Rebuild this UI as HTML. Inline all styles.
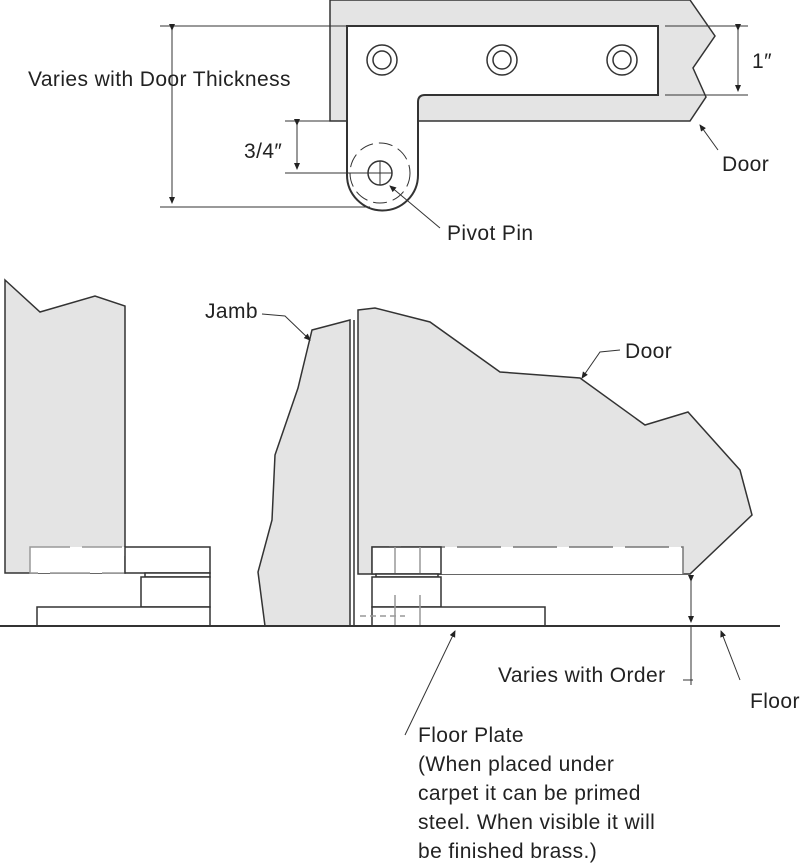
<!DOCTYPE html>
<html><head><meta charset="utf-8"><style>
html,body{margin:0;padding:0;background:#fff}
svg{display:block}
text{font-family:"Liberation Sans",sans-serif;font-size:21px;letter-spacing:0.4px;fill:#222}
</style></head><body>
<svg width="800" height="865" viewBox="0 0 800 865">
<defs><marker id="a" markerWidth="8" markerHeight="8" refX="6" refY="4" orient="auto"><path d="M0,1 L7,4 L0,7 z" fill="#222"/></marker></defs>
<g stroke="#333" stroke-width="1.5" fill="none">
<path d="M330,0 L690,0 L715,36 L693,68 L706,97 L690,121 L330,121 Z" fill="#e4e4e4"/>
<path d="M347,26 L658,26 L658,95 L425,95 Q418,95 418,102 L418,175 A35,35 0 0 1 347,175 Z" fill="#fff" stroke-width="2"/>
<circle cx="380" cy="173" r="30" stroke-dasharray="14,6" stroke-width="1"/>
<circle cx="380" cy="173" r="12"/>
<line x1="368" y1="173" x2="392" y2="173" stroke-width="1"/>
<line x1="380" y1="161" x2="380" y2="185" stroke-width="1"/>
<circle cx="382" cy="60" r="15"/><circle cx="382" cy="60" r="9"/>
<circle cx="502" cy="60" r="15"/><circle cx="502" cy="60" r="9"/>
<circle cx="622" cy="60" r="15"/><circle cx="622" cy="60" r="9"/>
<g stroke-width="1">
<line x1="665" y1="26" x2="748" y2="26"/><line x1="665" y1="95" x2="748" y2="95"/>
<line x1="738" y1="30" x2="738" y2="91" marker-start="url(#a)" marker-end="url(#a)"/>
<line x1="160" y1="26" x2="347" y2="26"/><line x1="160" y1="207" x2="370" y2="207"/>
<line x1="172" y1="30" x2="172" y2="203" marker-start="url(#a)" marker-end="url(#a)"/>
<line x1="285" y1="121" x2="330" y2="121"/><line x1="285" y1="173" x2="370" y2="173"/>
<line x1="297" y1="125" x2="297" y2="169" marker-start="url(#a)" marker-end="url(#a)"/>
<line x1="718" y1="150" x2="700" y2="125" marker-end="url(#a)"/>
<line x1="440" y1="228" x2="390" y2="186" marker-end="url(#a)"/>
</g>
<path d="M5,280 L40,312 L95,296 L125,306 L125,573 L5,573 Z" fill="#e4e4e4"/>
<rect x="30" y="547" width="95" height="26" fill="#fff" stroke="#999" stroke-dasharray="40,12"/>
<rect x="125" y="547" width="85" height="26" fill="#fff"/>
<rect x="145" y="573" width="65" height="4" fill="#fff"/>
<rect x="141" y="577" width="69" height="30" fill="#fff"/>
<rect x="37" y="607" width="173" height="19" fill="#fff"/>
<path d="M312,330 L350,320 L350,626 L265,626 L258,572 L272,520 L275,455 L298,388 Z" fill="#e4e4e4"/>
<path d="M358,310 L375,308 L430,322 L500,372 L580,378 L645,425 L688,412 L740,470 L752,515 L690,574 L358,574 Z" fill="#e4e4e4"/>
<line x1="354" y1="320" x2="354" y2="626"/>
<path d="M372,574 L372,547 L683,547 L683,574" fill="#fff" stroke="#777" stroke-dasharray="44,12"/>
<rect x="372" y="547" width="69" height="27" fill="#fff"/>
<line x1="395" y1="547" x2="395" y2="574" stroke="#999"/><line x1="420" y1="547" x2="420" y2="574" stroke="#999"/>
<rect x="376" y="574" width="62" height="3" fill="#fff"/>
<rect x="372" y="577" width="69" height="30" fill="#fff"/>
<rect x="372" y="607" width="173" height="19" fill="#fff"/>
<line x1="395" y1="595" x2="395" y2="626" stroke="#999"/><line x1="420" y1="595" x2="420" y2="626" stroke="#999"/>
<line x1="360" y1="616" x2="405" y2="616" stroke="#999" stroke-dasharray="6,4"/>
<line x1="0" y1="626" x2="780" y2="626" stroke-width="2"/>
<g stroke-width="1">
<line x1="691" y1="581" x2="691" y2="622" marker-start="url(#a)" marker-end="url(#a)"/>
<line x1="691" y1="626" x2="691" y2="685"/>
<line x1="683" y1="680" x2="693" y2="680"/>
<line x1="740" y1="680" x2="721" y2="631" marker-end="url(#a)"/>
<line x1="405" y1="735" x2="455" y2="631" marker-end="url(#a)"/>
<polyline points="262,314 285,316 310,340" marker-end="url(#a)"/>
<polyline points="620,350 600,352 582,378" marker-end="url(#a)"/>
</g>
</g>
<text x="28" y="86">Varies with Door Thickness</text>
<text x="752" y="68">1″</text>
<text x="244" y="158">3/4″</text>
<text x="722" y="171">Door</text>
<text x="447" y="240">Pivot Pin</text>
<text x="205" y="318">Jamb</text>
<text x="625" y="358">Door</text>
<text x="498" y="682">Varies with Order</text>
<text x="750" y="708">Floor</text>
<text x="418" y="742">Floor Plate</text>
<text x="418" y="771">(When placed under</text>
<text x="418" y="800">carpet it can be primed</text>
<text x="418" y="829">steel. When visible it will</text>
<text x="418" y="858">be finished brass.)</text>
</svg>
</body></html>
